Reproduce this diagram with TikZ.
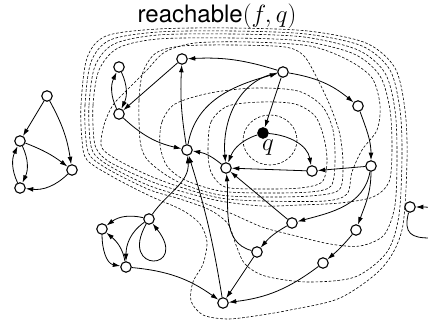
\documentclass[tikz,border=0pt]{standalone}
\usepackage{fontspec}
\newfontfamily\heros{TeX Gyre Heros}
\usetikzlibrary{arrows.meta}
\begin{document}
\begin{tikzpicture}[x=1pt,y=1pt,
  st/.style={circle, draw, line width=1.1pt, minimum size=10.5pt, inner sep=0pt, fill=white},
  stq/.style={st, fill=black},
  link/.style={line width=0.8pt, -{Latex[length=7.5pt,width=4.8pt]}},
  lvl/.style={line width=0.6pt, dash pattern=on 2.6pt off 1.8pt}]
\useasboundingbox (0,0) rectangle (428,326);
\clip (0,0) rectangle (428,326);

% nested reachability levels (drawn in y-down coordinates)
\begin{scope}[shift={(0,326)}, yscale=-1]
\draw[lvl] (270,140) ellipse [x radius=27, y radius=25];
\draw[lvl] plot[smooth cycle] coordinates {(208,150) (211,122) (228,106) (262,102) (295,104) (315,116) (324,138) (327,162) (322,182) (300,188) (262,189) (225,187) (211,172)};
\draw[lvl] plot[smooth cycle] coordinates {(160,145) (162,122) (175,104) (210,93) (255,88) (298,91) (322,106) (333,130) (335,162) (331,186) (310,192) (262,193) (220,191) (185,180) (167,166)};
\draw[lvl] plot[smooth cycle] coordinates {(140,140) (139,100) (143,72) (156,53) (182,46) (232,45) (285,47) (304,56) (318,80) (331,108) (340,135) (343,165) (339,190) (310,196) (262,197) (220,195) (185,185) (163,173) (146,158)};
\draw[lvl] plot[smooth cycle] coordinates {(101,145) (104,125) (113,105) (130,87) (147,70) (165,52) (195,43) (250,42) (310,46) (348,60) (372,78) (380,105) (377,130) (362,150) (352,172) (347,194) (325,201) (262,201) (220,198) (180,187) (150,176) (125,164) (108,154)};
\draw[lvl] plot[smooth cycle] coordinates {(94,140) (93,105) (99,70) (118,48) (158,39) (232,38) (302,41) (354,54) (380,76) (390,110) (392,150) (389,182) (373,197) (340,203) (300,205) (262,206) (220,201) (180,191) (150,181) (113,164) (99,153)};
\draw[lvl] plot[smooth cycle] coordinates {(90,140) (89,105) (95,66) (114,44) (158,35) (232,34) (304,37) (358,50) (385,73) (395,110) (397,155) (395,205) (384,235) (360,246) (330,244) (292,235) (262,227) (230,213) (195,200) (150,186) (113,168) (95,155)};
\draw[lvl] plot[smooth cycle] coordinates {(86,140) (85,105) (91,62) (110,40) (158,32) (232,31) (306,34) (362,46) (390,70) (400,110) (402,155) (399,215) (387,252) (355,277) (307,282) (265,276) (245,264) (236,245) (228,224) (210,210) (180,199) (150,190) (113,172) (91,157)};
\draw[lvl] plot[smooth cycle] coordinates {(82,140) (81,105) (87,58) (106,36) (158,29) (232,28) (308,31) (366,43) (395,68) (405,110) (407,160) (402,230) (382,268) (340,298) (290,310) (255,316) (227,319) (203,315) (191,301) (193,282) (203,264) (207,242) (200,224) (182,210) (150,196) (113,177) (87,160)};
\end{scope}

% title
\node[anchor=base] (title) at (217,303) {\fontsize{24}{28}\selectfont\heros reachable$(f,q)$};

% states
\node[st] (A) at (182,267) {};
\node[st] (B) at (283,254) {};
\node[st] (C) at (119,259) {};
\node[st] (D) at (119,212) {};
\node[st] (E) at (358,220) {};
\node[stq] (q) at (263,193) {};
\node[anchor=base] (ql) at (268,175) {\fontsize{25}{28}\selectfont$q$};
\node[st] (F) at (187,176) {};
\node[st] (G) at (226,158) {};
\node[st] (H) at (312,155) {};
\node[st] (I) at (371,160) {};
\node[st] (L1) at (47,230) {};
\node[st] (L2) at (20,185) {};
\node[st] (L3) at (72,156) {};
\node[st] (L4) at (20,138) {};
\node[st] (J) at (149,107) {};
\node[st] (K) at (102,97) {};
\node[st] (M) at (126,59) {};
\node[st] (N) at (292,103) {};
\node[st] (O) at (356,96) {};
\node[st] (P) at (257,74) {};
\node[st] (R) at (323,63) {};
\node[st] (S) at (223,23) {};
\node[st] (T) at (410,119) {};

% transitions
\draw[link] (B) to[bend right=10] (A);
\draw[link] (A) -- (D);
\draw[link] (D) to[bend left=25] (C);
\draw[link] (C) to[bend left=25] (D);
\draw[link] (D) to[bend right=15] (F);
\draw[link] (F) to[bend left=6] (A);
\draw[link] (F) to[out=80,in=195] (B);
\draw[link] (B) to[out=190,in=95] (G);
\draw[link] (B) -- (q);
\draw[link] (B) to[bend left=15] (E);
\draw[link] (E) to[out=-70,in=90] (I);
\draw[link] (q) to[bend right=25] (G);
\draw[link] (q) to[out=-5,in=100] (H);
\draw[link] (H) -- (G);
\draw[link] (I) -- (H);
\draw[link] (G) to[bend right=15] (F);
\draw[link] (I) to[out=-100,in=15] (N);
\draw[link] (I) to[out=-90,in=70] (O);
\draw[link] (N) -- (G);
\draw[link] (N) to[bend right=10] (P);
\draw[link] (P) to[out=165,in=-85] (G);
\draw[link] (P) -- (S);
\draw[link] (O) to[bend left=5] (R);
\draw[link] (R) to[bend left=15] (S);
\draw[link] (S) to[bend right=4] (F);
\draw[link] (J) to[out=55,in=-85] (F);
\draw[link] (J) to[bend right=25] (K);
\draw[link] (J) to[out=215,in=90] (M);
\draw[link] (J) .. controls (118,52) and (190,55) .. (J);
\draw[link] (K) to[out=-90,in=170] (M);
\draw[link] (M) to[out=100,in=-40] (K);
\draw[link] (M) to[bend left=15] (S);
\draw[link] (L1) -- (L2);
\draw[link] (L1) to[bend left=10] (L3);
\draw[link] (L2) to[bend left=8] (L3);
\draw[link] (L2) to[bend left=25] (L4);
\draw[link] (L4) to[bend left=25] (L2);
\draw[link] (L3) to[bend left=25] (L4);
\draw[link] (T) .. controls (403,92) and (412,88) .. (430,88) .. controls (455,88) and (455,119) .. (T);
\end{tikzpicture}
\end{document}
